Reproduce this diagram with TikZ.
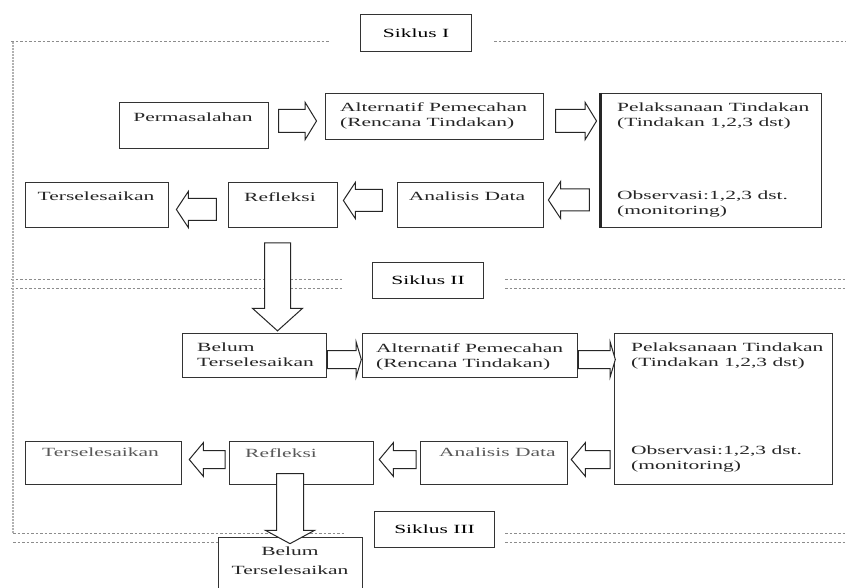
\documentclass[tikz,border=0pt]{standalone}
\usepackage{fontspec}
\setmainfont{Liberation Serif}[FakeStretch=1.72]
\usetikzlibrary{shapes.arrows}
\begin{document}
\begin{tikzpicture}[x=1pt,y=-1pt,
  boxs/.style={draw=black!80, line width=1.2pt, fill=white, inner sep=0pt, anchor=north west},
  txt/.style={inner sep=0pt, align=left, font=\fontsize{12.5}{15}\selectfont, text=black!85},
  sep/.style={draw=black!45, line width=1pt, dash pattern=on 2.5pt off 2pt},
  barrow/.style={single arrow, draw=black!85, fill=white, line width=1pt, inner xsep=0pt,
    single arrow head indent=0pt},
  varrow/.style={single arrow, draw=black!85, fill=white, line width=1pt, inner ysep=0pt,
    single arrow head indent=0pt, shape border rotate=270},
]
\useasboundingbox (0,0) rectangle (846,588);
\fill[white] (0,0) rectangle (846,588);

% separators
\draw[sep] (11,42) -- (329,42) (494,42) -- (846,42);
\draw[sep] (11,279) -- (343,279) (11,288) -- (343,288) (505,279) -- (846,279) (505,288) -- (846,288);
\draw[sep] (13,533) -- (345,533) (13,542) -- (345,542) (505,533) -- (846,533) (505,542) -- (846,542);
\draw[draw=black!30, line width=1.2pt, dash pattern=on 2pt off 1pt] (13,42) -- (13,533);

% cycle labels
\node[boxs, minimum width=111pt, minimum height=37pt, font=\fontsize{12.5}{15}\selectfont] (s1) at (360,14) {Siklus I};
\node[boxs, minimum width=111pt, minimum height=36pt, font=\fontsize{12.5}{15}\selectfont] (s2) at (372,262) {Siklus II};
\node[boxs, minimum width=120pt, minimum height=36pt, font=\fontsize{12.5}{15}\selectfont] (s3) at (374,511) {Siklus III};

% boxes row 1-2
\node[boxs, minimum width=149pt, minimum height=46pt] (perm) at (119,102) {};
\node[boxs, minimum width=218pt, minimum height=46pt] (alt1) at (325,93) {};
\node[boxs, minimum width=221pt, minimum height=134pt] (pel1) at (600,93) {};
\draw[black!85, line width=3pt] (pel1.north west) -- (pel1.south west);
\node[boxs, minimum width=143pt, minimum height=45pt] (ters1) at (25,182) {};
\node[boxs, minimum width=109pt, minimum height=45pt] (ref1) at (228,182) {};
\node[boxs, minimum width=146pt, minimum height=45pt] (ana1) at (397,182) {};

% boxes row 3-4
\node[boxs, minimum width=144pt, minimum height=44pt] (bel2) at (182,333) {};
\node[boxs, minimum width=215pt, minimum height=44pt] (alt2) at (362,333) {};
\node[boxs, minimum width=218pt, minimum height=151pt] (pel2) at (614,333) {};
\node[boxs, minimum width=156pt, minimum height=43pt] (ters2) at (25,441) {};
\node[boxs, minimum width=144pt, minimum height=43pt] (ref2) at (229,441) {};
\node[boxs, minimum width=147pt, minimum height=43pt] (ana2) at (420,441) {};
\node[boxs, minimum width=144pt, minimum height=60pt] (bel3) at (218,537) {};

% texts
\node[txt, anchor=north] (permT) at (193,113) {Permasalahan};
\node[txt, anchor=north west] (alt1T) at (340,103) {Alternatif Pemecahan\\(Rencana Tindakan)};
\node[txt, anchor=north west] (pel1T) at (617,103) {Pelaksanaan Tindakan\\(Tindakan 1,2,3 dst)};
\node[txt, anchor=north west] (obs1T) at (617,191) {Observasi:1,2,3 dst.\\(monitoring)};
\node[txt, anchor=north] (ters1T) at (96,192) {Terselesaikan};
\node[txt, anchor=north] (ref1T) at (280,192) {Refleksi};
\node[txt, anchor=north] (ana1T) at (467,192) {Analisis Data};

\node[txt, anchor=north west] (bel2T) at (197,343) {Belum\\Terselesaikan};
\node[txt, anchor=north west] (alt2T) at (376,343) {Alternatif Pemecahan\\(Rencana Tindakan)};
\node[txt, anchor=north west] (pel2T) at (631,343) {Pelaksanaan Tindakan\\(Tindakan 1,2,3 dst)};
\node[txt, anchor=north west] (obs2T) at (631,446) {Observasi:1,2,3 dst.\\(monitoring)};
\node[txt, anchor=north west, text=black!65] (ters2T) at (42,448) {Terselesaikan};
\node[txt, anchor=north west, text=black!65] (ref2T) at (245,448) {Refleksi};
\node[txt, anchor=north west, text=black!65] (ana2T) at (439,448) {Analisis Data};
\node[txt, anchor=north, align=center, font=\fontsize{12.5}{19}\selectfont] (bel3T) at (290,547) {Belum\\Terselesaikan};

% block arrows row 1
\node[barrow, inner ysep=11pt, minimum height=38pt, single arrow head extend=7pt, single arrow tip angle=117] (a1) at (294,121) {};
\node[barrow, inner ysep=11pt, minimum height=41pt, single arrow head extend=7pt, single arrow tip angle=117] (a2) at (572.5,121) {};
% row 2 (leftwards)
\node[barrow, shape border rotate=180, inner ysep=10.5pt, minimum height=41pt, single arrow head extend=7.5pt, single arrow tip angle=113] (a4) at (572.5,200) {};
\node[barrow, shape border rotate=180, inner ysep=10.5pt, minimum height=39pt, single arrow head extend=7pt, single arrow tip angle=113] (a3) at (366.5,200.5) {};
\node[barrow, shape border rotate=180, inner ysep=10.5pt, minimum height=40pt, single arrow head extend=7pt, single arrow tip angle=113] (a5) at (200,209.5) {};
% down arrow 1
\node[varrow, inner xsep=12.5pt, minimum height=88pt, single arrow head extend=12pt, single arrow tip angle=96] (d1) at (277.5,281) {};
% row 3
\node[barrow, inner ysep=8.5pt, minimum height=34pt, single arrow head extend=8.5pt, single arrow tip angle=147] (a6) at (343,359.5) {};
\node[barrow, inner ysep=8.5pt, minimum height=37pt, single arrow head extend=8.5pt, single arrow tip angle=147] (a7) at (595.5,359.5) {};
% row 4 (leftwards)
\node[barrow, shape border rotate=180, inner ysep=8.5pt, minimum height=39pt, single arrow head extend=8pt, single arrow tip angle=100] (a8) at (594.5,459.5) {};
\node[barrow, shape border rotate=180, inner ysep=8.5pt, minimum height=37pt, single arrow head extend=8pt, single arrow tip angle=100] (a9) at (401.5,459.5) {};
\node[barrow, shape border rotate=180, inner ysep=8.5pt, minimum height=36pt, single arrow head extend=8pt, single arrow tip angle=100] (a10) at (211,459.5) {};
% down arrow 2
\node[varrow, inner xsep=13pt, minimum height=70pt, single arrow head extend=11pt, single arrow tip angle=123] (d2) at (290,505) {};
\end{tikzpicture}
\end{document}
